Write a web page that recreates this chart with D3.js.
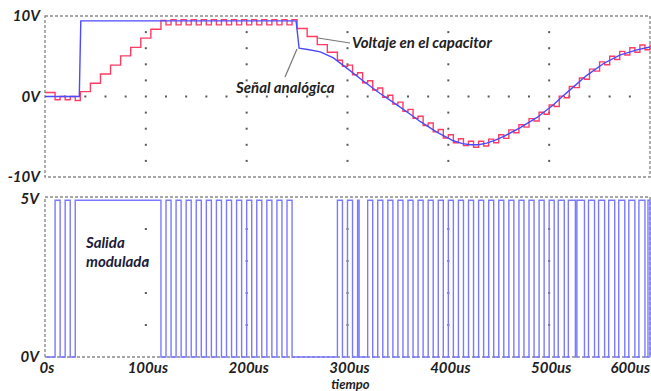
<!DOCTYPE html>
<html>
<head>
<meta charset="utf-8">
<script src="https://cdn.jsdelivr.net/npm/d3@7"></script>
<style>
  body { margin: 0; background: #fff; }
  svg text { font-family: Lato, "Open Sans", sans-serif; font-weight: bold; font-style: italic; }
</style>
</head>
<body>
<div id="chart"></div>
<script>
// time ticks (us) and labels
const xTicks = [0, 100, 200, 300, 400, 500, 600];
const xTickLabels = ["0s", "100us", "200us", "300us", "400us", "500us", "600us"];
const topTicks = [10, 0, -10];
const topTickLabels = ["10V", "0V", "-10V"];
const botTicks = [5, 0];
const botTickLabels = ["5V", "0V"];

// analog input signal [us, V]
const analogSignal = [
  [0, 0], [34, 0], [35.5, 9.4], [249, 9.4], [252, 6.0], [262, 5.8], [273, 5.55],
  [286, 4.8], [299, 3.55], [316, 1.9], [332, 0.4], [349, -1.05], [365, -2.45],
  [372, -3.1], [382, -3.9], [389, -4.45], [405, -5.5], [414, -5.85], [422, -6.0],
  [430, -6.0], [438, -5.8], [446, -5.45], [455, -4.95], [471, -3.9], [488, -2.6],
  [504, -1.05], [513, 0], [521, 0.85], [537, 2.6], [554, 4.1], [570, 5.15],
  [587, 5.8], [600, 6.15]
];

// capacitor voltage, value holds from each time until the next one
const capTimes = [
  0, 10, 15, 20, 25, 30, 35, 45, 55, 65, 75, 85, 95, 105, 115,
  120, 125, 130, 135, 140, 145, 150, 155, 160, 165, 170, 175, 180, 185,
  190, 195, 200, 205, 210, 215, 220, 225, 230, 235, 240, 245,
  250, 260, 270, 280,
  290, 295, 300, 305, 310, 315, 320, 325, 330, 335, 340, 345, 350, 355,
  360, 365, 370, 375, 380, 385, 390, 395, 400, 405, 410, 415, 420, 425,
  430, 435, 440, 445, 450, 455, 460, 465, 470, 475, 480, 485, 490, 495,
  500, 505, 510, 515, 520, 525, 530, 535, 540, 545, 550, 555, 560, 565,
  570, 575, 580, 585, 590, 595, 600
];
const capVolts = [
  0.5, -0.4, 0.0, -0.4, 0.0, -0.5, 0.6, 1.65, 2.8, 3.9, 5.05, 6.1, 7.25, 8.35, 9.45,
  8.9, 9.55, 8.9, 9.55, 8.9, 9.55, 8.9, 9.55, 8.9, 9.55, 8.9, 9.55, 8.9, 9.55,
  8.9, 9.55, 8.9, 9.55, 8.9, 9.55, 8.9, 9.55, 8.9, 9.55, 8.9, 9.55,
  8.45, 7.45, 6.45, 5.5,
  4.5, 3.75, 3.9, 2.7, 2.95, 1.7, 1.95, 0.8, 1.05, -0.1, 0.15, -0.95, -0.7, -1.85,
  -1.6, -2.7, -2.45, -3.6, -3.3, -4.4, -4.1, -5.15, -4.75, -5.75, -5.25, -6.1, -5.55, -6.3,
  -5.55, -6.15, -5.3, -5.75, -4.75, -5.2, -4.15, -4.5, -3.5, -3.8, -2.75, -3.05, -1.95, -2.2,
  -1.05, -1.25, 0.05, -0.15, 1.25, 1.1, 2.3, 2.15, 3.4, 3.15, 4.3, 3.95, 5.0, 4.6,
  5.6, 5.15, 6.05, 5.5, 6.4, 5.8, 6.5
];

// modulated output: high pulses (us)
const pulseStarts = [
  10, 20, 30, 120, 130, 140, 150, 160, 170, 180, 190, 200, 210, 220, 230, 240,
  290, 300, 310, 320, 330, 340, 350, 360, 370, 380, 390, 400, 410, 420, 430,
  440, 450, 460, 470, 480, 490, 500, 509, 519, 527.5, 539, 549, 559, 569, 579, 589, 598
];
const pulseEnds = [
  15, 25, 115, 125, 135, 145, 155, 165, 175, 185, 195, 205, 215, 225, 235, 245,
  295, 305, 311.5, 325, 335, 345, 355, 365, 375, 385, 395, 405, 415, 425, 435,
  445, 455, 465, 475, 485, 495, 505, 515, 526, 535, 545, 555, 565, 575, 585, 595, 600
];
const pulseHigh = 4.9;

const width = 651, height = 391;
const fontSize = 15;

const x = d3.scaleLinear().domain([0, 600]).range([45, 650]);
const yTop = d3.scaleLinear().domain([-10, 10]).range([177, 16]);
const yBot = d3.scaleLinear().domain([0, 5]).range([357, 197]);

const svg = d3.select("#chart")
  .append("svg")
  .attr("width", width)
  .attr("height", height);

// dashed frames
function frame(y) {
  svg.append("rect")
    .attr("x", x(0))
    .attr("y", y.range()[1])
    .attr("width", x(600) - x(0))
    .attr("height", y.range()[0] - y.range()[1])
    .attr("fill", "none")
    .attr("stroke", "#8a8a8a")
    .attr("stroke-width", 1.4)
    .attr("stroke-dasharray", "3,2");
}
frame(yTop);
frame(yBot);

// dotted grid
const dotColor = "#5a5a5a";
const gridT = [100, 200, 300, 400, 500];
const topDotV = [-8, -6, -4, -2, 2, 4, 6, 8];
gridT.forEach(t => {
  topDotV.forEach(v => {
    svg.append("rect").attr("x", x(t) - 1).attr("y", yTop(v) - 1)
      .attr("width", 2).attr("height", 2).attr("fill", dotColor);
  });
  [1, 2, 3, 4].forEach(v => {
    svg.append("rect").attr("x", x(t) - 1).attr("y", yBot(v) - 1)
      .attr("width", 2).attr("height", 2).attr("fill", dotColor);
  });
});
d3.range(20, 600, 20).forEach(t => {
  svg.append("rect").attr("x", x(t) - 1).attr("y", yTop(0) - 1)
    .attr("width", 2).attr("height", 2).attr("fill", dotColor);
});

// traces
const analogLine = d3.line().x(d => x(d[0])).y(d => yTop(d[1]));
const capLine = d3.line().x(d => x(d[0])).y(d => yTop(d[1])).curve(d3.curveStepAfter);

const capData = capTimes.map((t, i) => [t, capVolts[i]]);

svg.append("path")
  .datum(capData)
  .attr("d", capLine)
  .attr("fill", "none")
  .attr("stroke", "#ff3d63")
  .attr("stroke-width", 1.4);

svg.append("path")
  .datum(analogSignal)
  .attr("d", analogLine)
  .attr("fill", "none")
  .attr("stroke", "#4a4aff")
  .attr("stroke-width", 1.4);

// modulated output
let pwm = [[0, 0]];
pulseStarts.forEach((s, i) => {
  pwm.push([s, 0], [s, pulseHigh], [pulseEnds[i], pulseHigh], [pulseEnds[i], 0]);
});
pwm.push([600, 0]);

svg.append("path")
  .datum(pwm)
  .attr("d", d3.line().x(d => x(d[0])).y(d => yBot(d[1])))
  .attr("fill", "none")
  .attr("stroke", "#7a7aff")
  .attr("stroke-width", 1.4);

// tick labels
const labelColor = "#1e1e1e";
xTicks.forEach((t, i) => {
  const last = i === xTicks.length - 1;
  svg.append("text")
    .attr("x", last ? x(t) : x(t) + 2)
    .attr("y", 372.5)
    .attr("text-anchor", last ? "end" : "middle")
    .attr("font-size", fontSize)
    .attr("fill", labelColor)
    .text(xTickLabels[i]);
});
topTicks.forEach((v, i) => {
  svg.append("text")
    .attr("x", 40).attr("y", yTop(v) + 5)
    .attr("text-anchor", "end").attr("font-size", fontSize)
    .attr("fill", labelColor)
    .text(topTickLabels[i]);
});
botTicks.forEach((v, i) => {
  svg.append("text")
    .attr("x", 39).attr("y", yBot(v) + (v === 5 ? 7 : 5))
    .attr("text-anchor", "end").attr("font-size", fontSize)
    .attr("fill", labelColor)
    .text(botTickLabels[i]);
});
svg.append("text")
  .attr("x", x(300) + 3).attr("y", 388.5)
  .attr("text-anchor", "middle").attr("font-size", 13)
  .attr("fill", labelColor)
  .text("tiempo");

// annotations
svg.append("line")
  .attr("x1", 318).attr("y1", 38).attr("x2", 350).attr("y2", 43)
  .attr("stroke", "#777").attr("stroke-width", 1.2);
svg.append("text")
  .attr("x", 352).attr("y", 48).attr("font-size", fontSize)
  .attr("fill", "#222")
  .text("Voltaje en el capacitor");

svg.append("line")
  .attr("x1", 297).attr("y1", 49).attr("x2", 285).attr("y2", 77)
  .attr("stroke", "#777").attr("stroke-width", 1.2);
svg.append("text")
  .attr("x", 236).attr("y", 93).attr("font-size", fontSize)
  .attr("fill", "#222")
  .text("Señal analógica");

svg.append("text")
  .attr("x", 86).attr("y", 248).attr("font-size", fontSize)
  .attr("fill", "#1c1c3a")
  .text("Salida");
svg.append("text")
  .attr("x", 86).attr("y", 267).attr("font-size", fontSize)
  .attr("fill", "#1c1c3a")
  .text("modulada");
</script>
</body>
</html>
